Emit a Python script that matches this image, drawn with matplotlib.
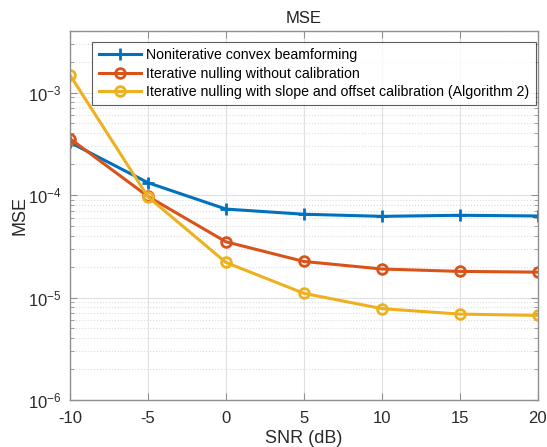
import numpy as np
import matplotlib
matplotlib.use("Agg")
import matplotlib.pyplot as plt
from matplotlib.ticker import LogLocator, NullFormatter

plt.rcParams['font.family'] = ['Liberation Sans', 'DejaVu Sans']
plt.rcParams['mathtext.fontset'] = 'custom'
plt.rcParams['mathtext.rm'] = 'Liberation Sans'
plt.rcParams['mathtext.it'] = 'Liberation Sans:italic'
plt.rcParams['axes.unicode_minus'] = False

# data
snr = [-10, -5, 0, 5, 10, 15, 20]
mse_convex = [3.26e-4, 1.32e-4, 7.3e-5, 6.5e-5, 6.2e-5, 6.35e-5, 6.25e-5]
mse_nocal = [3.55e-4, 9.7e-5, 3.5e-5, 2.25e-5, 1.9e-5, 1.8e-5, 1.77e-5]
mse_cal = [1.48e-3, 9.6e-5, 2.2e-5, 1.1e-5, 7.8e-6, 6.9e-6, 6.7e-6]
labels = ["Noniterative convex beamforming",
          "Iterative nulling without calibration",
          "Iterative nulling with slope and offset calibration (Algorithm 2)"]

fig = plt.figure(figsize=(5.47, 4.47), dpi=100)
ax = fig.add_axes([0.128, 0.105, 0.855, 0.826])

ax.plot(snr, mse_convex, color='#0072BD', lw=2.2, marker='+', ms=8, mew=2, label=labels[0])
ax.plot(snr, mse_nocal, color='#D95319', lw=2.2, marker='o', ms=7, mew=2,
        mfc='none', label=labels[1])
ax.plot(snr, mse_cal, color='#EDB120', lw=2.2, marker='o', ms=7, mew=2,
        mfc='none', label=labels[2])

ax.set_yscale('log')
ax.set_xlim(-10, 20)
ax.set_ylim(1e-6, 4e-3)
ax.set_xticks([-10, -5, 0, 5, 10, 15, 20])
ax.yaxis.set_major_locator(LogLocator(base=10, numticks=10))
ax.yaxis.set_minor_locator(LogLocator(base=10, subs=np.arange(2, 10), numticks=20))
ax.yaxis.set_minor_formatter(NullFormatter())

ax.grid(True, which='major', color='#e0e0e0', lw=0.8)
ax.grid(True, which='minor', axis='y', color='#dcdcdc', lw=0.8, ls=':')
ax.set_axisbelow(True)

for s in ax.spines.values():
    s.set_color('#909090')
    s.set_linewidth(1.0)
ax.tick_params(which='both', direction='in', top=True, right=True,
               colors='#909090', labelcolor='#2a2a2a', labelsize=12)
ax.tick_params(which='major', length=5)
ax.tick_params(which='minor', length=3)
ax.tick_params(axis='x', pad=8)
ax.tick_params(axis='y', pad=6)

ax.set_title("MSE", fontsize=12, color='#222222', pad=6)
ax.set_xlabel("SNR (dB)", fontsize=13, color='#2a2a2a', labelpad=3)
ax.set_ylabel("MSE", fontsize=13, color='#2a2a2a', labelpad=0)

leg = ax.legend(loc='upper right', bbox_to_anchor=(0.996, 0.97), fontsize=10.2,
                frameon=True, fancybox=False, borderaxespad=0.0,
                handlelength=3.0, labelspacing=0.3, borderpad=0.45,
                handletextpad=0.35)
leg.get_frame().set_edgecolor('#333333')
leg.get_frame().set_linewidth(0.8)

fig.savefig("out.png", dpi=100)
